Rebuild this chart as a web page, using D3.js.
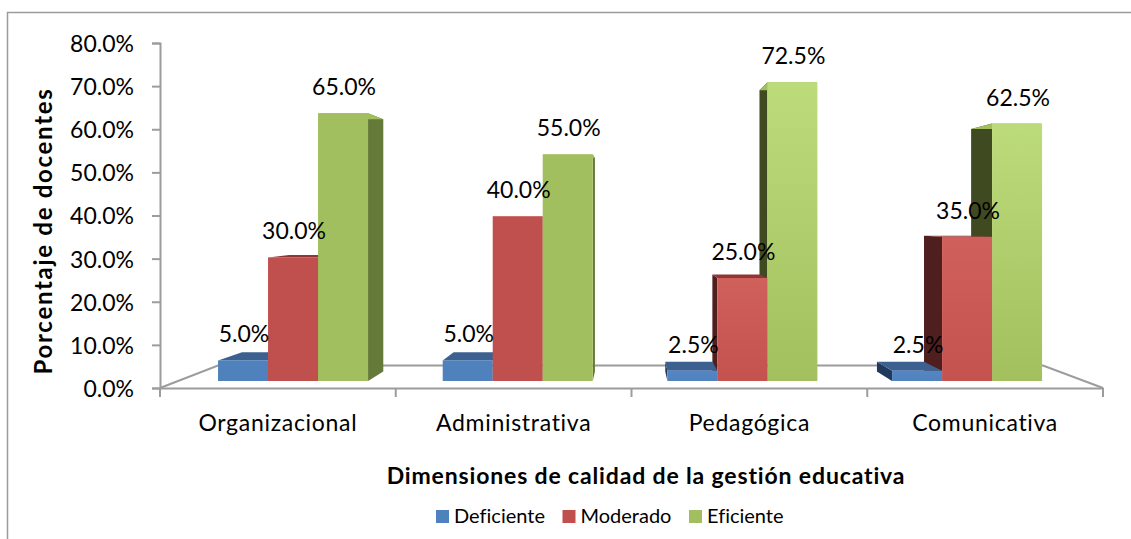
<!DOCTYPE html>
<html lang="es">
<head>
    <meta charset="UTF-8">
    <title>Dimensiones de calidad de la gestión educativa</title>
    <script src="https://d3js.org/d3.v7.min.js"></script>
    <style>
        html, body { margin: 0; padding: 0; background: #fff; }
        svg { display: block; }
        text { font-family: Lato, "Open Sans", sans-serif; fill: #000; font-variant-ligatures: none; }
    </style>
</head>
<body>
    <script>
        const categories = ["Organizacional", "Administrativa", "Pedagógica", "Comunicativa"];
        const seriesNames = ["Deficiente", "Moderado", "Eficiente"];
        const deficiente = [5.0, 5.0, 2.5, 2.5];
        const moderado = [30.0, 40.0, 25.0, 35.0];
        const eficiente = [65.0, 55.0, 72.5, 62.5];
        const yTicks = [0, 10, 20, 30, 40, 50, 60, 70, 80];

        const seriesValues = [deficiente, moderado, eficiente];

        const width = 1131;
        const height = 539;
        const grey = "#9c9c9c";

        // colours per series: flat face, lit top/bottom of the face, bar top, left and right side
        const colors = [
            { flat: "#4f81bd", lit0: "#5586c3", lit1: "#4f81bd", top: "#3c6190", left: "#1f3a5c", right: "#3c6190" },
            { flat: "#c0504d", lit0: "#d0605c", lit1: "#c4524f", top: "#8e3735", left: "#4f1e1e", right: "#7a2f2d" },
            { flat: "#a1bf5e", lit0: "#bcdb7a", lit1: "#a3c05e", top: "#a1bf5e", left: "#3f4a20", right: "#657a38" }
        ];

        const svg = d3.select("body").append("svg")
            .attr("width", width)
            .attr("height", height);

        const defs = svg.append("defs");
        colors.forEach(function(c, i) {
            const grad = defs.append("linearGradient")
                .attr("id", "lit" + i)
                .attr("x1", 0).attr("y1", 0).attr("x2", 0).attr("y2", 1);
            grad.append("stop").attr("offset", "0%").attr("stop-color", c.lit0);
            grad.append("stop").attr("offset", "100%").attr("stop-color", c.lit1);
        });

        // chart frame, cut off by the page on the right and bottom
        svg.append("path")
            .attr("d", "M7.5," + height + "V12.5H" + width)
            .attr("fill", "none")
            .attr("stroke", grey)
            .attr("stroke-width", 1.5);

        // axis scales (front of the floor)
        const xAxisScale = d3.scaleBand().domain(categories).range([160, 1103]);
        const yAxisScale = d3.scaleLinear().domain([0, 80]).range([388, 43]);

        // bar scales (the bars stand a bit further back than the axes)
        const x0 = d3.scaleBand().domain(categories).range([180.7, 1079.4]);
        const x1 = d3.scaleBand().domain(seriesNames).range([-75, 75]);
        const yBar = d3.scaleLinear().domain([0, 80]).range([381, 51.4]);

        // perspective: back corners move towards this point
        const vanishX = 631;
        const vanishY = 218;
        const depth = 0.058;
        function back(p) {
            return [p[0] + (vanishX - p[0]) * depth, p[1] + (vanishY - p[1]) * depth];
        }

        // floor
        svg.append("path")
            .attr("d", "M160,388L218,365.5H1043L1103,388")
            .attr("fill", "none")
            .attr("stroke", grey)
            .attr("stroke-width", 2);

        // bars, furthest from the vanishing point first
        const bars = [];
        categories.forEach(function(cat, c) {
            seriesNames.forEach(function(name, s) {
                const left = x0(cat) + x0.bandwidth() / 2 + x1(name);
                bars.push({
                    cat: c,
                    series: s,
                    value: seriesValues[s][c],
                    x0: left,
                    x1: left + x1.bandwidth()
                });
            });
        });
        const barOrder = bars.slice().sort(function(a, b) {
            const da = Math.abs((a.x0 + a.x1) / 2 - vanishX);
            const db = Math.abs((b.x0 + b.x1) / 2 - vanishX);
            return db - da;
        });

        const line = d3.line();
        const barGroup = svg.selectAll(".bar")
            .data(barOrder)
            .enter().append("g")
            .attr("class", "bar");

        // side face
        barGroup.append("path")
            .attr("d", function(d) {
                const onRight = (d.x0 + d.x1) / 2 > vanishX;
                const sx = onRight ? d.x0 : d.x1;
                const a = [sx, yBar(0)];
                const b = [sx, yBar(d.value)];
                return line([a, b, back(b), back(a)]) + "Z";
            })
            .attr("fill", function(d) {
                return (d.x0 + d.x1) / 2 > vanishX ? colors[d.series].left : colors[d.series].right;
            });

        // top face
        barGroup.append("path")
            .attr("d", function(d) {
                const a = [d.x0, yBar(d.value)];
                const b = [d.x1, yBar(d.value)];
                return line([a, b, back(b), back(a)]) + "Z";
            })
            .attr("fill", function(d) { return colors[d.series].top; });

        // front face
        barGroup.append("rect")
            .attr("x", function(d) { return d.x0; })
            .attr("y", function(d) { return yBar(d.value); })
            .attr("width", function(d) { return d.x1 - d.x0; })
            .attr("height", function(d) { return yBar(0) - yBar(d.value); })
            .attr("fill", function(d) {
                return d.cat < 2 ? colors[d.series].flat : "url(#lit" + d.series + ")";
            });

        // axes
        const yAxis = d3.axisLeft(yAxisScale)
            .tickValues(yTicks)
            .tickSize(8)
            .tickPadding(18)
            .tickFormat(function(d) { return d3.format(".1f")(d) + "%"; });
        const yAxisG = svg.append("g")
            .attr("transform", "translate(160,0)")
            .call(yAxis);

        const xAxis = d3.axisBottom(xAxisScale)
            .tickSize(0)
            .tickPadding(27);
        const xAxisG = svg.append("g")
            .attr("transform", "translate(0,388)")
            .call(xAxis);

        // x ticks sit between the categories
        const xEdges = categories.map(function(c) { return xAxisScale(c); }).concat(xAxisScale.range()[1]);
        xAxisG.selectAll(".edge")
            .data(xEdges)
            .enter().append("line")
            .attr("class", "edge")
            .attr("x1", function(d) { return d; })
            .attr("x2", function(d) { return d; })
            .attr("y1", 0)
            .attr("y2", 9);

        [yAxisG, xAxisG].forEach(function(g) {
            g.selectAll(".domain, line")
                .attr("stroke", grey)
                .attr("stroke-width", 2);
            g.selectAll("text")
                .attr("font-size", 23)
                .style("font-family", "Lato, 'Open Sans', sans-serif");
        });
        xAxisG.selectAll("text").attr("letter-spacing", 0.7);
        yAxisG.selectAll("text").attr("y", 1);

        // data labels
        svg.selectAll(".label")
            .data(bars)
            .enter().append("text")
            .attr("class", "label")
            .attr("x", function(d) { return (d.x0 + d.x1) / 2 + 1; })
            .attr("y", function(d) { return yBar(d.value) - 18; })
            .attr("text-anchor", "middle")
            .attr("font-size", 23)
            .text(function(d) { return d3.format(".1f")(d.value) + "%"; });

        // axis titles
        svg.append("text")
            .attr("transform", "translate(52,231) rotate(-90)")
            .attr("text-anchor", "middle")
            .attr("font-size", 24)
            .attr("font-weight", "bold")
            .attr("letter-spacing", 1.7)
            .text("Porcentaje de docentes");

        svg.append("text")
            .attr("x", 646)
            .attr("y", 484)
            .attr("text-anchor", "middle")
            .attr("font-size", 23)
            .attr("font-weight", "bold")
            .attr("letter-spacing", 0.85)
            .text("Dimensiones de calidad de la gestión educativa");

        // legend
        const legendX = d3.scalePoint().domain(seriesNames).range([436, 689]);
        const legend = svg.selectAll(".legend")
            .data(seriesNames)
            .enter().append("g")
            .attr("class", "legend")
            .attr("transform", function(d) { return "translate(" + legendX(d) + ",510)"; });
        legend.append("rect")
            .attr("width", 13)
            .attr("height", 13)
            .attr("fill", function(d, i) { return colors[i].flat; });
        legend.append("text")
            .attr("x", 18)
            .attr("y", 13)
            .attr("font-size", 20)
            .text(function(d) { return d; });
    </script>
</body>
</html>
